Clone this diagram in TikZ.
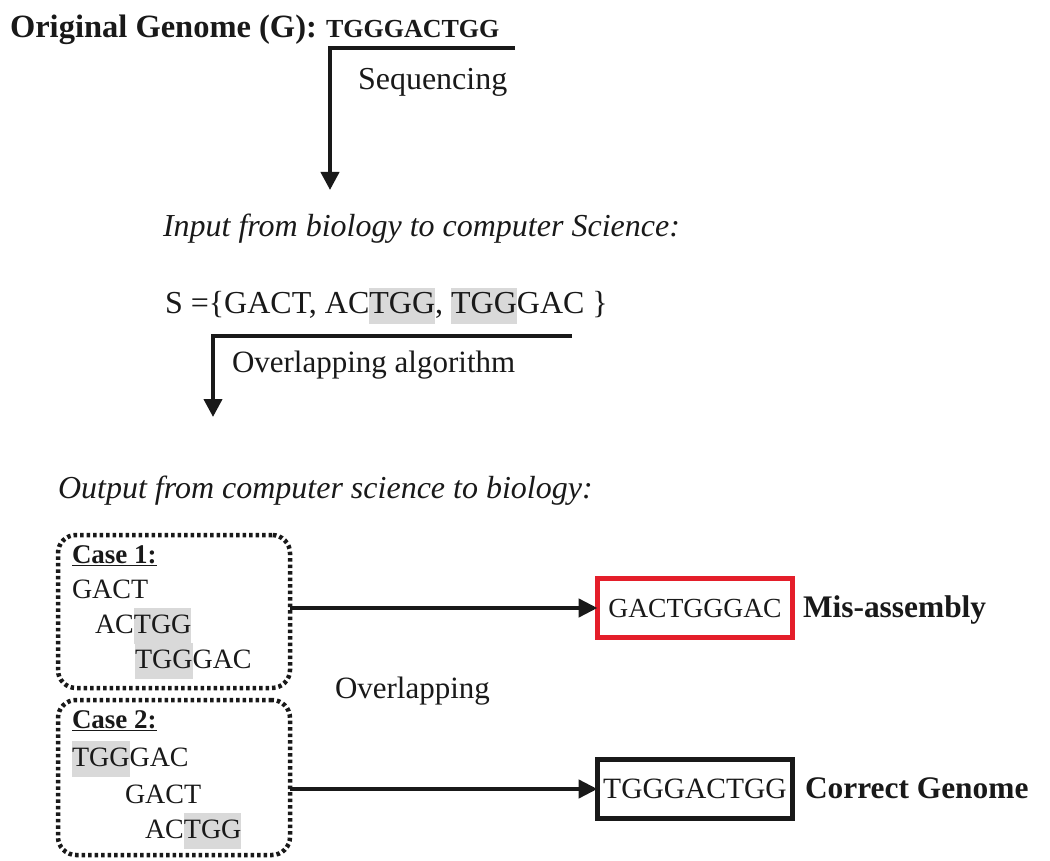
\documentclass[tikz,border=0pt]{standalone}
\usepackage{fontspec}
\setmainfont{Liberation Serif}
\usetikzlibrary{arrows.meta}
\definecolor{hlgray}{RGB}{217,217,217}
\definecolor{boxred}{RGB}{228,30,42}
\definecolor{ink}{RGB}{25,25,25}
\newcommand\hl[1]{{\setlength{\fboxsep}{0pt}\colorbox{hlgray}{\strut #1}}}
\begin{document}
\begin{tikzpicture}[x=1pt,y=-1pt,
  every node/.style={inner sep=0pt, outer sep=0pt, text=ink},
  txt/.style={anchor=base west, font=\fontsize{32}{36}\selectfont},
  txs/.style={anchor=base west, font=\fontsize{31}{36}\selectfont},
  itx/.style={anchor=base west, font=\fontsize{32}{36}\selectfont\itshape},
  bld/.style={anchor=base west, font=\fontsize{31.4}{36}\selectfont\bfseries},
  cas/.style={anchor=base west, font=\fontsize{27}{36}\selectfont\bfseries},
  seqt/.style={anchor=base west, font=\fontsize{28}{36}\selectfont},
  arr/.style={draw=ink, line width=4pt, -{Triangle[length=18pt,width=18pt]}},
  sarr/.style={draw=ink, line width=4.5pt, -{Triangle[length=19pt,width=18pt]}},
  casebox/.style={draw=ink, line width=4.5pt, dash pattern=on 3.5pt off 3pt,
    rounded corners=18pt, minimum width=232pt, minimum height=153pt},
  outbox/.style={draw=ink, line width=5pt, minimum width=195pt, minimum height=59pt,
    font=\fontsize{27.6}{36}\selectfont}]
\useasboundingbox (0,0) rectangle (1050,861);

% top
\node[bld, font=\fontsize{32.5}{36}\selectfont\bfseries] (title) at (10,38) {Original Genome (G):};
\node[anchor=base west, font=\fontsize{26}{32}\selectfont\bfseries] (genome) at (326,38) {TGGGACTGG};
\coordinate (s1) at (515,48);
\coordinate (s2) at (330,190);
\draw[arr] (s1) -| (s2);
\node[txt] (seq) at (358,90) {Sequencing};

\node[itx] (input) at (163,237) {Input from biology to computer Science:};
\node[txt] (set) at (165,313) {S =\{GACT, AC\hl{TGG}, \hl{TGG}GAC \}};
\coordinate (a1) at (572,336);
\coordinate (a2) at (213,417);
\draw[arr] (a1) -| (a2);
\node[txs] (alg) at (232,372) {Overlapping algorithm};

\node[itx] (output) at (58,498) {Output from computer science to biology:};

% case boxes
\node[casebox] (case1) at (174,611.5) {};
\node[casebox, minimum height=155pt] (case2) at (174,777.5) {};

\node[cas] (c1t) at (72,563) {\underline{Case 1:}};
\node[seqt] (c1a) at (72,598) {GACT};
\node[seqt] (c1b) at (95,633) {AC\hl{TGG}};
\node[seqt] (c1c) at (135,668) {\hl{TGG}GAC};

\node[cas] (c2t) at (72,728) {\underline{Case 2:}};
\node[seqt] (c2a) at (72,766) {\hl{TGG}GAC};
\node[seqt] (c2b) at (125,803) {GACT};
\node[seqt] (c2c) at (145,838) {AC\hl{TGG}};

\node[txs] (ovl) at (335,698) {Overlapping};

% outputs
\node[outbox, draw=boxred] (mis) at (695,608) {GACTGGGAC};
\node[outbox, font=\fontsize{29.5}{36}\selectfont] (cor) at (695,789) {TGGGACTGG};
\node[bld] (misl) at (803,617) {Mis-assembly};
\node[bld] (corl) at (805,798) {Correct Genome};

\draw[sarr] (case1.east |- mis.west) -- (mis.west);
\draw[sarr] (case2.east |- cor.west) -- (cor.west);
\end{tikzpicture}
\end{document}
